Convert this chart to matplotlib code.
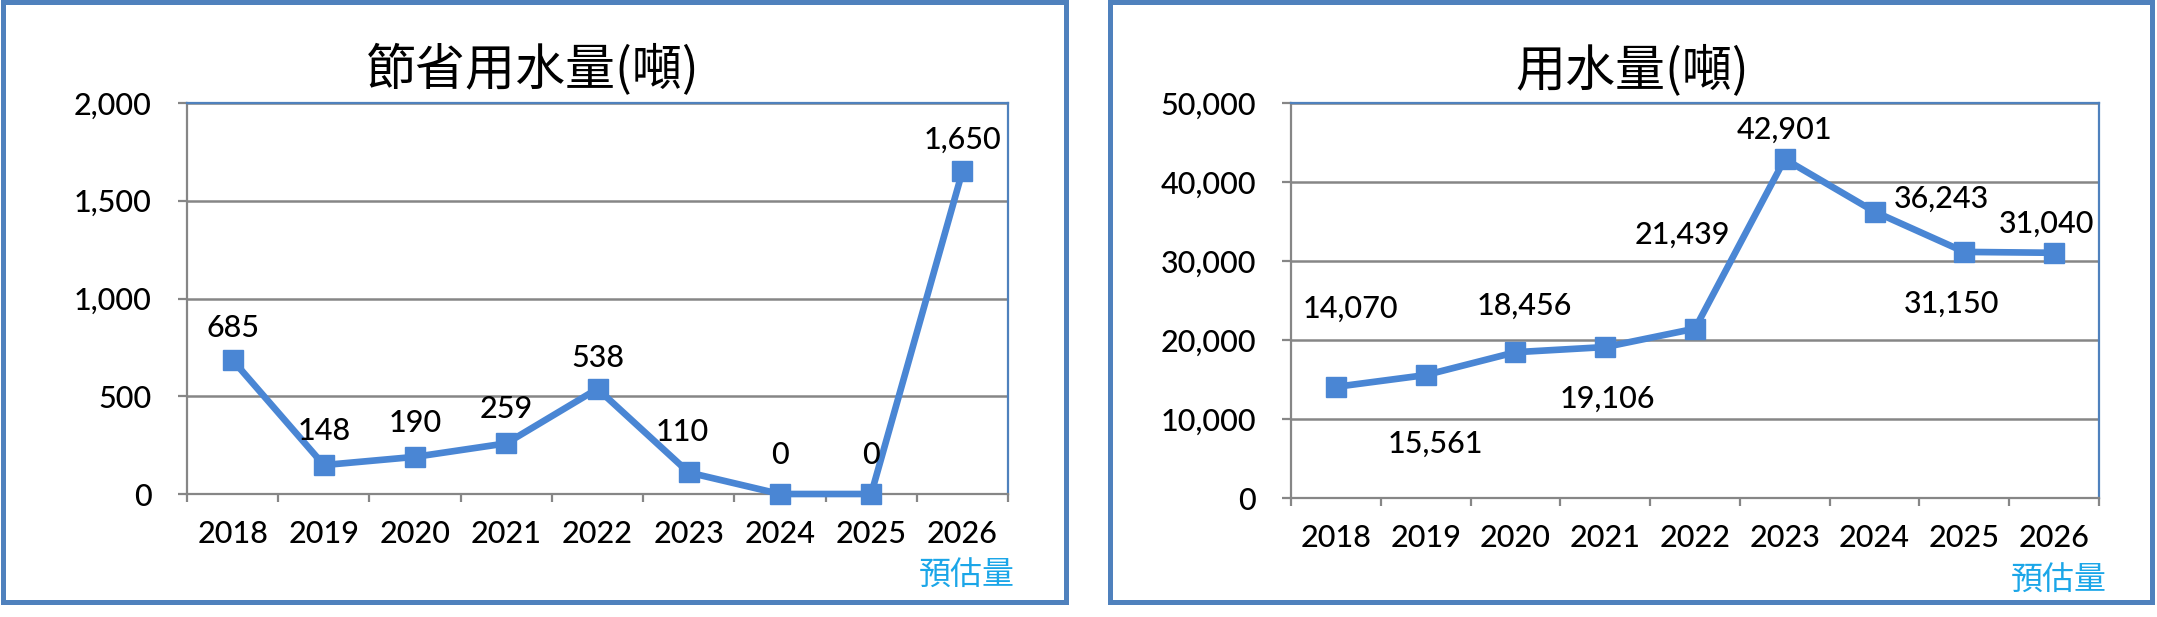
import matplotlib.pyplot as plt
from matplotlib.patches import Rectangle

years = ["2018", "2019", "2020", "2021", "2022", "2023", "2024", "2025", "2026"]
saved_water = [685, 148, 190, 259, 538, 110, 0, 0, 1650]
used_water = [14070, 15561, 18456, 19106, 21439, 42901, 36243, 31150, 31040]
saved_title = "節省用水量(噸)"
used_title = "用水量(噸)"
estimate_note = "預估量"

saved_yticks = [0, 500, 1000, 1500, 2000]
used_yticks = [0, 10000, 20000, 30000, 40000, 50000]

# label offsets in pixels (dx, dy), moved by hand in the original
saved_offsets = [(0, 32), (0, 34), (0, 34), (0, 34), (0, 31), (-6, 40), (0, 39), (0, 39), (0, 32)]
used_offsets = [(15, 78), (10, -69), (9, 46), (2, -52), (-13, 94), (0, 29), (67, 13), (-13, -52), (-8, 29)]

line_blue = '#4a86d4'
frame_blue = '#4f81bd'
grid_gray = '#868686'
note_cyan = '#1ba6e8'
num_font = 'Lato'
cjk_font = ['Noto Sans CJK TC', 'DejaVu Sans']

W, H = 2157, 617
fig = plt.figure(figsize=(W / 100, H / 100), dpi=100)


def px_box(x0, y0, x1, y1):
    # pixel box (from top-left) -> figure fraction [left, bottom, width, height]
    return [x0 / W, 1 - y1 / H, (x1 - x0) / W, (y1 - y0) / H]


def draw_chart(box, values, yticks, offsets, title, title_x, ypad):
    ax = fig.add_axes(box)
    xs = [i + 0.5 for i in range(len(values))]
    ax.plot(xs, values, color=line_blue, lw=4.8, marker='s', ms=14.5, clip_on=False, zorder=3)
    for x, v, (dx, dy) in zip(xs, values, offsets):
        ax.annotate(f"{v:,}", (x, v), xytext=(dx, dy), textcoords='offset pixels',
                    ha='center', va='center', fontsize=22, family=num_font,
                    fontweight='medium', zorder=4)
    ax.set_xlim(0, len(values))
    ax.set_ylim(yticks[0], yticks[-1])
    ax.set_xticks(range(len(values) + 1))
    ax.set_xticklabels([])
    ax.set_xticks(xs, minor=True)
    ax.set_xticklabels(years, minor=True, fontsize=22, family=num_font, fontweight='medium')
    ax.set_yticks(yticks)
    ax.set_yticklabels([f"{t:,}" for t in yticks], fontsize=22, family=num_font,
                       fontweight='medium')
    ax.tick_params(axis='x', which='major', length=6, width=1.6, color=grid_gray)
    ax.tick_params(axis='x', which='minor', length=0, pad=19)
    ax.tick_params(axis='y', length=6.5, width=1.6, color=grid_gray, pad=ypad)
    ax.grid(axis='y', color=grid_gray, lw=1.8)
    ax.set_axisbelow(True)
    for side in ['left', 'bottom']:
        ax.spines[side].set_color(grid_gray)
        ax.spines[side].set_linewidth(1.6)
    for side in ['top', 'right']:
        ax.spines[side].set_color(frame_blue)
        ax.spines[side].set_linewidth(1.6)
    ax.text(xs[-1] + 0.05, -0.21, estimate_note, transform=ax.get_xaxis_transform(),
            ha='center', va='center', fontsize=23, color=note_cyan, family=cjk_font,
            fontweight='medium')
    fig.text(title_x / W, 1 - 71 / H, title, ha='center', va='center',
             fontsize=36, family=cjk_font, fontweight='medium')
    return ax


draw_chart(px_box(187, 103, 1008, 494), saved_water, saved_yticks, saved_offsets,
           saved_title, 533, 19)
draw_chart(px_box(1291, 103, 2099, 498), used_water, used_yticks, used_offsets,
           used_title, 1632, 18.5)

# outer frames of the two panels
for x0, x1 in [(3, 1066), (1110, 2152)]:
    fig.patches.append(Rectangle((x0 / W, 1 - 602 / H), (x1 - x0) / W, 600 / H,
                                 transform=fig.transFigure, fill=False,
                                 edgecolor=frame_blue, lw=3.6))

fig.savefig('out.png', dpi=100)
